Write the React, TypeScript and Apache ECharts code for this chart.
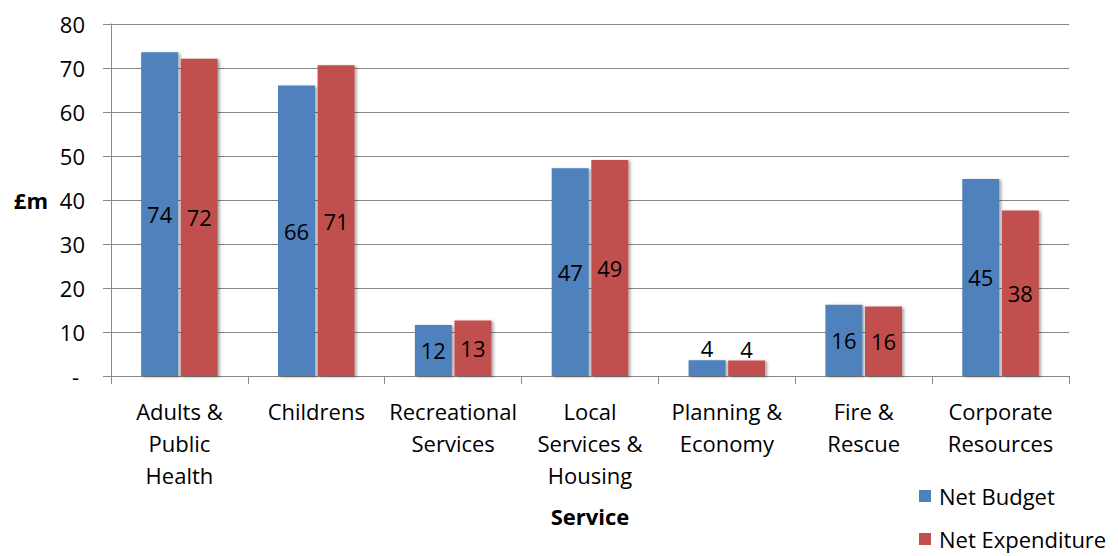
import React, { useEffect, useRef } from "react";
import * as echarts from "echarts";

const categories = [
  "Adults &\nPublic\nHealth",
  "Childrens",
  "Recreational\nServices",
  "Local\nServices &\nHousing",
  "Planning &\nEconomy",
  "Fire &\nRescue",
  "Corporate\nResources",
];
const netBudget = [73.6, 66.0, 11.6, 47.2, 3.6, 16.2, 44.8];
const netExpenditure = [72.1, 70.6, 12.6, 49.1, 3.5, 15.8, 37.6];
const yTicks = [0, 10, 20, 30, 40, 50, 60, 70, 80];

const FONT = "'Open Sans', Lato, sans-serif";
const GRID_COLOR = "#878787";

function toData(values: number[]) {
  return values.map((v) =>
    v < 8
      ? { value: v, label: { position: "top", distance: 1 } }
      : { value: v }
  );
}

export default function App() {
  const ref = useRef<HTMLDivElement>(null);

  useEffect(() => {
    if (!ref.current) return;
    const chart = echarts.init(ref.current, null, { renderer: "svg" });
    const barLabel = {
      show: true,
      position: "inside",
      color: "#000",
      fontFamily: FONT,
      fontSize: 22,
      formatter: (p: any) => String(Math.round(p.value)),
    };
    const shadow = {
      shadowColor: "rgba(0,0,0,0.35)",
      shadowBlur: 3,
      shadowOffsetX: 2,
      shadowOffsetY: 1,
    };
    chart.setOption({
      animation: false,
      backgroundColor: "#ffffff",
      textStyle: { fontFamily: FONT },
      grid: { left: 111, right: 49, top: 24, bottom: 180, containLabel: false },
      legend: {
        orient: "vertical",
        left: 919,
        top: 485,
        padding: 0,
        itemWidth: 12,
        itemHeight: 12,
        itemGap: 21,
        icon: "rect",
        textStyle: {
          fontFamily: FONT,
          fontSize: 22,
          lineHeight: 22,
          color: "#000",
          padding: [0, 0, 0, 3],
        },
        data: ["Net Budget", "Net Expenditure"],
      },
      xAxis: {
        type: "category",
        data: categories,
        boundaryGap: true,
        name: "Service",
        nameLocation: "middle",
        nameGap: 129,
        nameTextStyle: {
          fontFamily: FONT,
          fontSize: 22,
          fontWeight: "bold",
          color: "#000",
          verticalAlign: "top",
        },
        axisLine: { show: true, lineStyle: { color: GRID_COLOR, width: 1 } },
        axisTick: {
          show: true,
          length: 8,
          alignWithLabel: false,
          interval: 0,
          lineStyle: { color: GRID_COLOR },
        },
        axisLabel: {
          interval: 0,
          margin: 19,
          fontFamily: FONT,
          fontSize: 22,
          lineHeight: 32,
          color: "#000",
          align: "center",
        },
        splitLine: { show: false },
      },
      yAxis: {
        type: "value",
        min: yTicks[0],
        max: yTicks[yTicks.length - 1],
        interval: 10,
        name: "£m",
        nameLocation: "middle",
        nameRotate: 0,
        nameGap: 63,
        nameTextStyle: {
          fontFamily: FONT,
          fontSize: 22,
          fontWeight: "bold",
          color: "#000",
        },
        axisLine: { show: true, lineStyle: { color: GRID_COLOR, width: 1 } },
        axisTick: { show: true, length: 8, lineStyle: { color: GRID_COLOR } },
        axisLabel: {
          margin: 26,
          fontFamily: FONT,
          fontSize: 22,
          color: "#000",
          formatter: (v: number) => (v === 0 ? "{d|-}" : String(v)),
          rich: {
            d: {
              fontFamily: FONT,
              fontSize: 22,
              color: "#000",
              padding: [0, 6, 0, 0],
            },
          },
        },
        splitLine: { show: true, lineStyle: { color: GRID_COLOR, width: 1 } },
      },
      series: [
        {
          name: "Net Budget",
          type: "bar",
          data: toData(netBudget),
          barWidth: 37,
          barGap: "7%",
          itemStyle: { color: "#4F81BD", ...shadow },
          label: barLabel,
        },
        {
          name: "Net Expenditure",
          type: "bar",
          data: toData(netExpenditure),
          barWidth: 37,
          barGap: "7%",
          itemStyle: { color: "#C0504D", ...shadow },
          label: barLabel,
        },
      ],
    });
    return () => chart.dispose();
  }, []);

  return (
    <div
      ref={ref}
      style={{ position: "fixed", left: 0, top: 0, width: 1118, height: 556 }}
    />
  );
}
